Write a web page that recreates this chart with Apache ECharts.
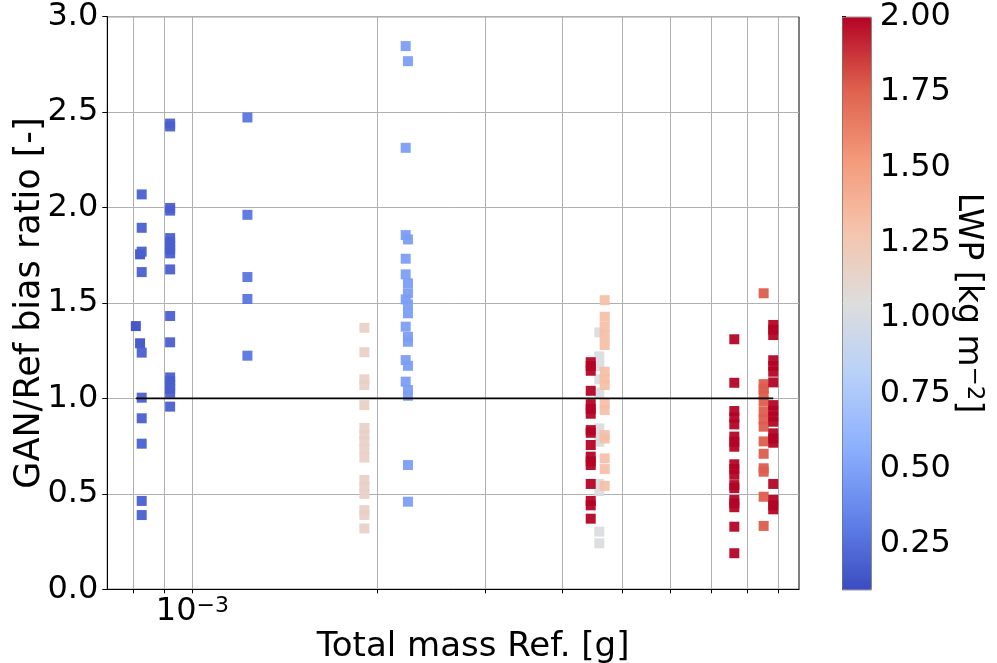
<!DOCTYPE html>
<html>
<head>
<meta charset="utf-8">
<script src="https://cdn.jsdelivr.net/npm/echarts@6/dist/echarts.min.js"></script>
<style>
html, body { margin: 0; padding: 0; background: #fff; }
#chart { width: 997px; height: 663px; }
</style>
</head>
<body>
<div id="chart"></div>
<script>
// total mass of each vertical group [g] and its LWP [kg m-2]
var groupMass = [8.09e-4, 8.22e-4, 8.27e-4, 9.20e-4, 1.229e-3, 1.905e-3, 2.224e-3, 2.243e-3,
                 4.594e-3, 4.449e-3, 4.688e-3, 7.62e-3, 8.505e-3, 8.816e-3];
var groupLwp = [0.11, 0.13, 0.19, 0.19, 0.28, 1.16, 0.48, 0.48, 1.03, 2.0, 1.31, 2.0, 1.77, 2.0];

// GAN/Ref bias ratio per group
var ratioA1 = [1.379];
var ratioA2 = [1.289, 1.755];
var ratioA3 = [2.069, 1.894, 1.769, 1.662, 1.240, 1.004, 0.896, 0.763, 0.463, 0.389];
var ratioB = [2.44, 2.425, 1.998, 1.984, 1.84, 1.82, 1.80, 1.78, 1.76, 1.676, 1.432, 1.294,
              1.11, 1.09, 1.07, 1.05, 1.03, 0.957];
var ratioC = [2.472, 1.962, 1.636, 1.521, 1.224];
var ratioD = [1.370, 1.242, 1.10, 1.07, 0.965, 0.845, 0.81, 0.775, 0.735, 0.69, 0.573, 0.536,
              0.50, 0.415, 0.389, 0.319];
var ratioE1 = [2.846, 2.313, 1.856, 1.732, 1.650, 1.519, 1.376, 1.201, 1.088];
var ratioE2 = [2.767, 1.833, 1.603, 1.551, 1.493, 1.446, 1.323, 1.297, 1.171, 1.044, 1.014,
               0.651, 0.459];
var ratioFgray = [1.346, 1.22, 1.17, 1.10, 1.03, 0.843, 0.80, 0.773, 0.552, 0.515, 0.302, 0.241];
var ratioFred = [1.19, 1.17, 1.145, 1.04, 0.97, 0.945, 0.92, 0.834, 0.82, 0.756, 0.695, 0.67,
                 0.651, 0.552, 0.463, 0.44, 0.37];
var ratioFpeach = [1.515, 1.428, 1.376, 1.33, 1.28, 1.14, 1.10, 1.07, 0.974, 0.94, 0.808, 0.79,
                   0.686, 0.63, 0.542];
var ratioG = [1.31, 1.082, 0.934, 0.90, 0.864, 0.80, 0.773, 0.747, 0.655, 0.63, 0.60, 0.546,
              0.53, 0.468, 0.45, 0.43, 0.328, 0.189];
var ratioHorange = [1.551, 1.075, 1.05, 1.02, 0.983, 0.93, 0.89, 0.852, 0.775, 0.71, 0.634,
                    0.616, 0.485, 0.332];
var ratioHred = [1.385, 1.36, 1.332, 1.20, 1.17, 1.14, 1.084, 0.965, 0.935, 0.905, 0.878, 0.817,
                 0.79, 0.768, 0.552, 0.468, 0.44, 0.419];

var groupRatios = [ratioA1, ratioA2, ratioA3, ratioB, ratioC, ratioD, ratioE1, ratioE2,
                   ratioFgray, ratioFred, ratioFpeach, ratioG, ratioHorange, ratioHred];

// tick values
var massTicks = [8e-4, 9e-4, 1e-3, 2e-3, 3e-3, 4e-3, 5e-3, 6e-3, 7e-3, 8e-3, 9e-3];
var massLabels = [1e-3];
var lwpTicks = [0.25, 0.5, 0.75, 1.0, 1.25, 1.5, 1.75, 2.0];

// matplotlib coolwarm
var coolwarm = ['#3b4cc0', '#6282ea', '#8db0fe', '#b8d0f9', '#dddddd',
                '#f5c4ad', '#f49a7b', '#de604d', '#b40426'];

var points = [];
groupRatios.forEach(function (list, g) {
    list.forEach(function (r) {
        points.push([groupMass[g], r, groupLwp[g]]);
    });
});
var xMin = Math.min.apply(null, groupMass);
var xMax = Math.max.apply(null, groupMass);

var font = 'DejaVu Sans';
var tickSize = 32;
var myChart = echarts.init(document.getElementById('chart'));
var option = {
    animation: false,
    grid: [{
        left: 107.3,
        right: 198,
        top: 16.7,
        bottom: 73.7,
        outerBoundsMode: 'none',
        containLabel: false,
        show: true,
        borderColor: '#000',
        borderWidth: 1
    }, {
        left: 842,
        width: 28.7,
        top: 16.7,
        bottom: 73.7,
        outerBoundsMode: 'none',
        containLabel: false
    }],
    xAxis: [{
        type: 'log',
        logBase: 10,
        min: 7.27e-4,
        max: 9.71e-3,
        name: 'Total mass Ref. [g]',
        nameLocation: 'middle',
        nameGap: 41,
        nameMoveOverlap: false,
        nameTextStyle: { fontFamily: font, fontSize: 34, color: '#000', padding: [0, 0, 0, 40] },
        axisLine: { show: true, lineStyle: { color: '#000', width: 1 } },
        axisTick: { show: true, customValues: massTicks, length: 4, lineStyle: { color: '#000' } },
        axisLabel: {
            customValues: massLabels,
            margin: 6,
            formatter: function () { return '{b|10}{s|\u22123}'; },
            rich: {
                b: { fontFamily: font, fontSize: tickSize, lineHeight: 32, color: '#000' },
                s: { fontFamily: font, fontSize: 22, lineHeight: 16, verticalAlign: 'top', color: '#000' }
            }
        },
        splitLine: { show: true, lineStyle: { color: '#b0b0b0', width: 1 } }
    }, {
        gridIndex: 1,
        type: 'value',
        show: false
    }],
    yAxis: [{
        type: 'value',
        min: 0,
        max: 3,
        interval: 0.5,
        name: 'GAN/Ref bias ratio [-]',
        nameLocation: 'middle',
        nameRotate: 90,
        nameGap: 60,
        nameMoveOverlap: false,
        nameTextStyle: { fontFamily: font, fontSize: 35, color: '#000' },
        axisLine: { show: true, lineStyle: { color: '#000', width: 1 } },
        axisTick: { show: true, length: 5, lineStyle: { color: '#000' } },
        axisLabel: {
            fontFamily: font, fontSize: tickSize, color: '#000', margin: 9,
            formatter: function (v) { return v.toFixed(1); }
        },
        splitLine: { show: true, lineStyle: { color: '#b0b0b0', width: 1 } }
    }, {
        gridIndex: 1,
        type: 'value',
        position: 'right',
        min: 0.1,
        max: 2.0,
        axisLine: { show: false },
        axisTick: { show: true, customValues: lwpTicks, length: 4, lineStyle: { color: '#000' } },
        axisLabel: {
            customValues: lwpTicks,
            fontFamily: font, fontSize: tickSize, color: '#000', margin: 9,
            formatter: function (v) { return v.toFixed(2); }
        },
        splitLine: { show: false }
    }],
    visualMap: {
        type: 'continuous',
        seriesIndex: 0,
        dimension: 2,
        min: 0.1,
        max: 2.0,
        calculable: false,
        text: null,
        showLabel: false,
        left: 842,
        top: 16.7,
        itemWidth: 28.7,
        itemHeight: 572.6,
        padding: 0,
        borderColor: '#555',
        borderWidth: 1,
        inRange: { color: coolwarm }
    },
    graphic: [{
        type: 'text',
        x: 968,
        y: 303,
        rotation: -Math.PI / 2,
        style: {
            text: '{b|LWP [kg m}{s|\u22122}{b|]}',
            align: 'center',
            verticalAlign: 'middle',
            rich: {
                b: { fontFamily: font, fontSize: 33, lineHeight: 34, fill: '#000' },
                s: { fontFamily: font, fontSize: 23, lineHeight: 17, verticalAlign: 'top', fill: '#000' }
            }
        }
    }],
    series: [{
        type: 'scatter',
        data: points,
        symbol: 'rect',
        symbolSize: 10,
        itemStyle: { opacity: 0.95 },
        z: 3
    }, {
        type: 'line',
        data: [[xMin, 1], [xMax, 1]],
        symbol: 'none',
        lineStyle: { color: '#000', width: 1.8 },
        z: 4
    }]
};
myChart.setOption(option);
</script>
</body>
</html>
